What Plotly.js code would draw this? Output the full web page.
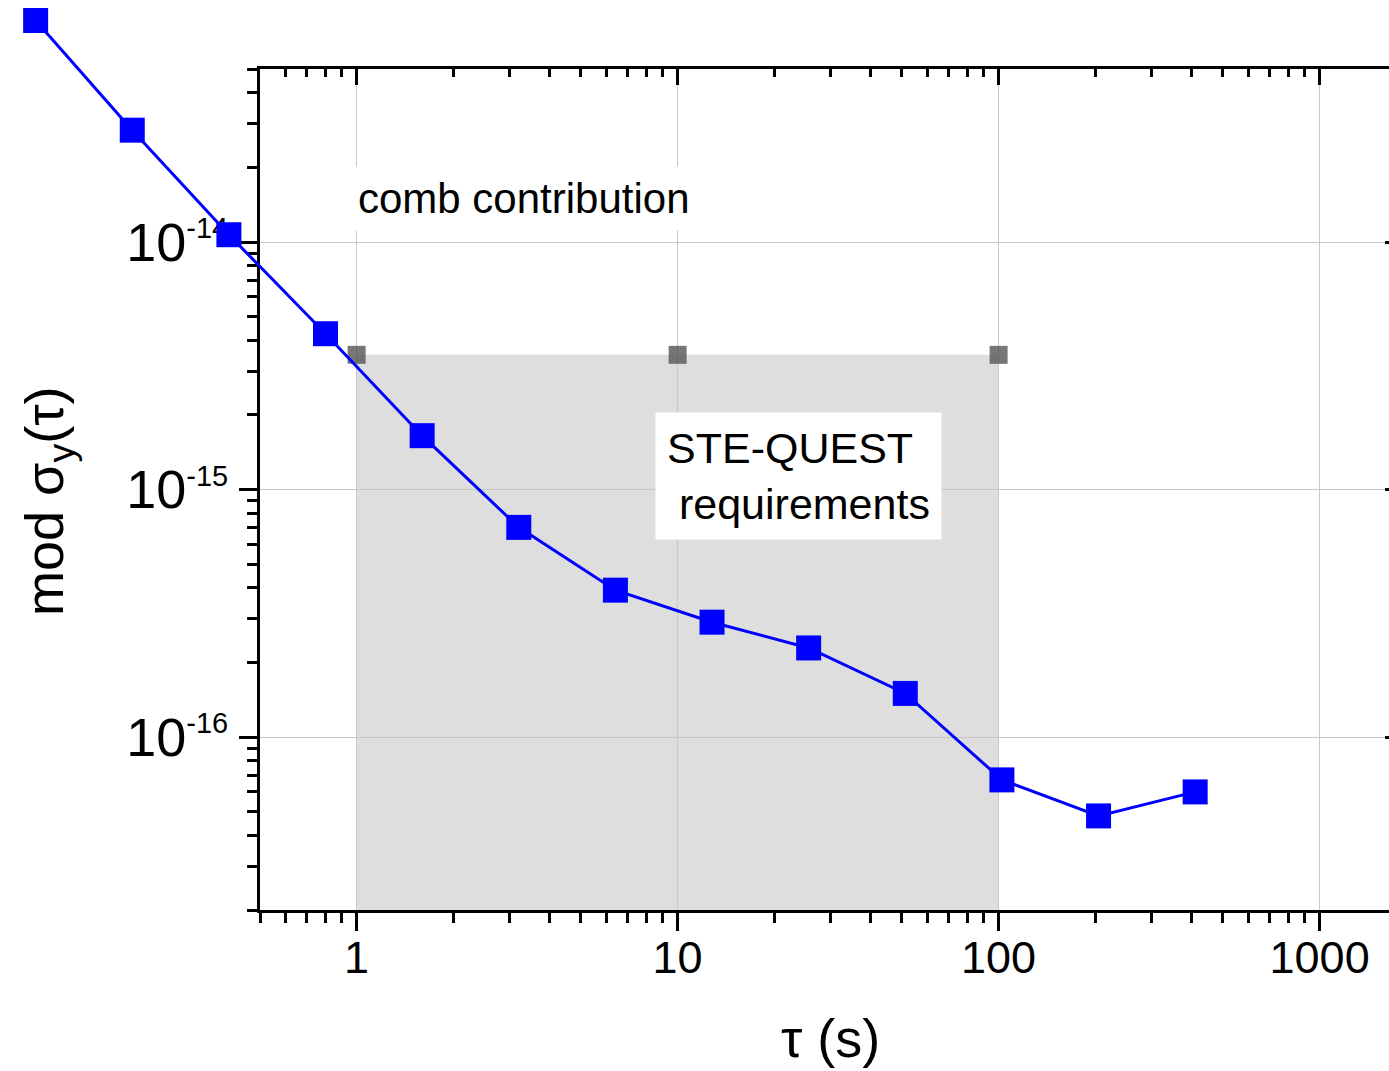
<!DOCTYPE html>
<html>
<head>
<meta charset="utf-8">
<script src="https://cdn.plot.ly/plotly-3.0.1.min.js"></script>
<style>html,body{margin:0;padding:0;overflow:hidden;background:#fff}</style>
</head>
<body>
<div id="chart"></div>
<script>
// ---- data ----
const tau = [0.1, 0.2, 0.4, 0.8, 1.6, 3.2, 6.4, 12.8, 25.6, 51.2, 102.4, 204.8, 409.6];
const sigma = [7.85e-14, 2.83e-14, 1.07e-14, 4.26e-15, 1.65e-15, 7.03e-16, 3.92e-16,
               2.91e-16, 2.29e-16, 1.50e-16, 6.71e-17, 4.80e-17, 6.00e-17];
const reqTau = [1, 10, 100];
const reqSigma = [3.5e-15, 3.5e-15, 3.5e-15];
const xTickVals = [1, 10, 100, 1000];
const xTickText = ['1', '10', '100', '1000'];
const yTickVals = [1e-16, 1e-15, 1e-14];
const yTickExp = ['-16', '-15', '-14'];
const combLabel = 'comb contribution';
const reqLabel = 'STE-QUEST<br>\u00A0requirements';
const xTitle = '\u03C4 (s)';
const yTitle = 'mod \u03C3<sub>y</sub>(\u03C4)';

// ---- geometry ----
const W = 1410, H = 1071;
const box = {l: 260, r: 1401, t: 69, b: 910};
const xRange = [Math.log10(0.5), Math.log10(1793)];
const yRange = [Math.log10(2e-17), Math.log10(5e-14)];
const pxDecX = (box.r - box.l) / (xRange[1] - xRange[0]);
const pxDecY = (box.b - box.t) / (yRange[1] - yRange[0]);
const x2Range = [xRange[0] - box.l / pxDecX, xRange[1] + (W - box.r) / pxDecX];
const y2Range = [yRange[0] - (H - box.b) / pxDecY, yRange[1] + box.t / pxDecY];

function minors(k0, k1) {
  const out = [];
  for (let k = k0; k <= k1; k++) for (let m = 2; m <= 9; m++) out.push(m * Math.pow(10, k));
  return out;
}
const xMinor = minors(-1, 3);
const yMinor = minors(-17, -14);
const yTickText = yTickExp.map(e => '10<sup><span style="font-size:29px">' + e + '</span></sup>');

const FONT = '"Liberation Sans", Arial, Helvetica, sans-serif';
const xDom = [box.l / W, box.r / W];
const yDom = [(H - box.b) / H, (H - box.t) / H];

const traces = [
  { // requirement points (frame subplot)
    x: reqTau, y: reqSigma, xaxis: 'x', yaxis: 'y', type: 'scatter', mode: 'markers',
    marker: {symbol: 'square', size: 18, color: 'rgba(85,85,85,0.8)'},
    cliponaxis: false, showlegend: false, hoverinfo: 'skip'
  },
  { // dummy for top axis overlay
    x: [tau[5]], y: [sigma[5]], xaxis: 'x3', yaxis: 'y', mode: 'markers',
    marker: {opacity: 0}, showlegend: false, hoverinfo: 'skip'
  },
  { // dummy for right axis overlay
    x: [tau[5]], y: [sigma[5]], xaxis: 'x', yaxis: 'y3', mode: 'markers',
    marker: {opacity: 0}, showlegend: false, hoverinfo: 'skip'
  },
  { // main series, on full-page subplot so it can run outside the frame
    x: tau, y: sigma, xaxis: 'x2', yaxis: 'y2', type: 'scatter', mode: 'lines+markers',
    line: {color: '#0000ff', width: 3},
    marker: {symbol: 'square', size: 25, color: '#0000ff', line: {width: 0}},
    cliponaxis: false, showlegend: false, hoverinfo: 'skip'
  }
];

const baseAx = {
  type: 'log', showline: true, linecolor: '#000', linewidth: 3,
  tickcolor: '#000', tickwidth: 3, zeroline: false, fixedrange: true
};

const layout = {
  width: W, height: H,
  margin: {l: 0, r: 0, t: 0, b: 0},
  paper_bgcolor: '#fff', plot_bgcolor: 'rgba(0,0,0,0)',
  showlegend: false,
  xaxis: Object.assign({}, baseAx, {
    domain: xDom, range: xRange, anchor: 'y', side: 'bottom',
    ticks: 'outside', ticklen: 18, tickmode: 'array', tickvals: xTickVals, ticktext: xTickText,
    tickfont: {family: FONT, size: 45, color: '#000'}, ticklabelstandoff: -12,
    showgrid: true, gridcolor: '#c8c8c8', gridwidth: 1,
    minor: {tickmode: 'array', tickvals: xMinor, ticks: 'outside', ticklen: 10, tickwidth: 3, tickcolor: '#000', showgrid: false}
  }),
  yaxis: Object.assign({}, baseAx, {
    domain: yDom, range: yRange, anchor: 'x', side: 'left',
    ticks: 'outside', ticklen: 18, tickmode: 'array', tickvals: yTickVals, ticktext: yTickText,
    tickfont: {family: FONT, size: 54, color: '#000'},
    showgrid: true, gridcolor: '#c8c8c8', gridwidth: 1,
    minor: {tickmode: 'array', tickvals: yMinor, ticks: 'outside', ticklen: 10, tickwidth: 3, tickcolor: '#000', showgrid: false}
  }),
  xaxis3: Object.assign({}, baseAx, {
    overlaying: 'x', anchor: 'y', side: 'top', range: xRange,
    ticks: 'inside', ticklen: 16, tickmode: 'array', tickvals: xTickVals,
    showticklabels: false, showgrid: false,
    minor: {tickmode: 'array', tickvals: xMinor, ticks: 'inside', ticklen: 8, tickwidth: 3, tickcolor: '#000', showgrid: false}
  }),
  yaxis3: Object.assign({}, baseAx, {
    overlaying: 'y', anchor: 'x', side: 'right', range: yRange,
    ticks: 'inside', ticklen: 16, tickmode: 'array', tickvals: yTickVals,
    showticklabels: false, showgrid: false,
    minor: {tickmode: 'array', tickvals: yMinor, ticks: 'inside', ticklen: 8, tickwidth: 3, tickcolor: '#000', showgrid: false}
  }),
  xaxis2: {type: 'log', domain: [0, 1], range: x2Range, anchor: 'y2', visible: false, fixedrange: true},
  yaxis2: {type: 'log', domain: [0, 1], range: y2Range, anchor: 'x2', visible: false, fixedrange: true},
  shapes: [{
    type: 'rect', xref: 'x', yref: 'y', layer: 'below',
    x0: reqTau[0], x1: reqTau[reqTau.length - 1],
    y0: Math.pow(10, yRange[0]), y1: reqSigma[0],
    fillcolor: '#dedede', line: {width: 0}
  }],
  annotations: [
    {text: combLabel, xref: 'paper', yref: 'paper', x: 524 / W, y: 1 - 198 / H,
     xanchor: 'center', yanchor: 'middle', showarrow: false,
     font: {family: FONT, size: 42, color: '#000'}, bgcolor: '#fff', borderpad: 8},
    {text: reqLabel, xref: 'paper', yref: 'paper', x: 798.5 / W, y: 1 - 476 / H,
     xanchor: 'center', yanchor: 'middle', showarrow: false, align: 'left',
     font: {family: FONT, size: 43, color: '#000'}, bgcolor: '#fff', borderpad: 11},
    {text: xTitle, xref: 'paper', yref: 'paper', x: 830 / W, y: 1 - 1038 / H,
     xanchor: 'center', yanchor: 'middle', showarrow: false,
     font: {family: FONT, size: 54, color: '#000'}},
    {text: yTitle, xref: 'paper', yref: 'paper', x: 48 / W, y: 1 - 501 / H,
     xanchor: 'center', yanchor: 'middle', showarrow: false, textangle: -90,
     font: {family: FONT, size: 54, color: '#000'}}
  ]
};

Plotly.newPlot('chart', traces, layout, {displayModeBar: false, staticPlot: true});
</script>
</body>
</html>
